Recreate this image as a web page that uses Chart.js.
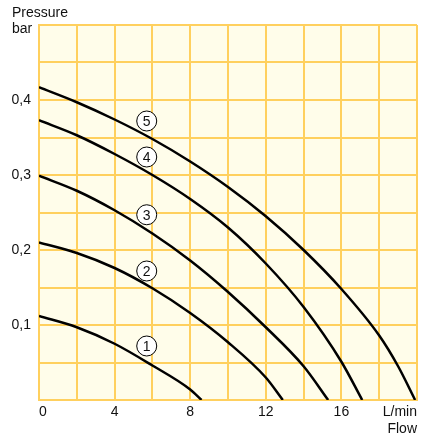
<!DOCTYPE html>
<html>
<head>
<meta charset="utf-8">
<script src="https://cdn.jsdelivr.net/npm/chart.js@4/dist/chart.umd.min.js"></script>
<style>
  html, body { margin: 0; padding: 0; background: #fff; overflow: hidden; }
  canvas { display: block; }
</style>
</head>
<body>
<canvas id="pumpChart" width="422" height="437"></canvas>
<script>
// pump curves, flow in L/min, pressure in bar
const flow1 = [0, 2, 4, 6, 8, 8.6];
const pres1 = [0.112, 0.097, 0.075, 0.046, 0.014, 0];
const flow2 = [0, 2, 4, 6, 8, 10, 12, 12.9];
const pres2 = [0.21, 0.196, 0.176, 0.149, 0.116, 0.077, 0.030, 0];
const flow3 = [0, 2, 4, 6, 8, 10, 12, 14, 15.3];
const pres3 = [0.299, 0.279, 0.253, 0.222, 0.186, 0.144, 0.097, 0.045, 0];
const flow4 = [0, 2, 4, 6, 8, 10, 12, 14, 16, 17.1];
const pres4 = [0.373, 0.353, 0.328, 0.300, 0.268, 0.230, 0.182, 0.124, 0.051, 0];
const flow5 = [0, 2, 4, 6, 8, 10, 12, 14, 16, 18, 19, 19.9];
const pres5 = [0.417, 0.397, 0.374, 0.348, 0.318, 0.284, 0.245, 0.200, 0.148, 0.086, 0.045, 0];

// circled curve numbers
const markerNames = ['1', '2', '3', '4', '5'];
const markerFlow = [5.7, 5.7, 5.7, 5.7, 5.7];
const markerPres = [0.072, 0.172, 0.247, 0.324, 0.372];

const xTickLabels = { 0: '0', 4: '4', 8: '8', 12: '12', 16: '16', 20: ['L/min', 'Flow'] };
const yTickLabels = { 0.1: '0,1', 0.2: '0,2', 0.3: '0,3', 0.4: '0,4' };

const FONT = 'Liberation Sans, Arial, sans-serif';
const GRID = '#ffd05e';

function pts(xs, ys) {
  return xs.map((x, i) => ({ x: x, y: ys[i] }));
}

function curve(xs, ys) {
  return {
    data: pts(xs, ys),
    borderColor: '#000',
    borderWidth: 2.5,
    pointRadius: 0,
    cubicInterpolationMode: 'monotone',
    fill: false
  };
}

const bgPlugin = {
  id: 'bg',
  beforeDraw(chart) {
    const a = chart.chartArea, c = chart.ctx;
    c.save();
    c.fillStyle = '#fffdea';
    c.fillRect(a.left, a.top, a.right - a.left, a.bottom - a.top);
    c.restore();
  }
};

const textPlugin = {
  id: 'texts',
  afterDatasetsDraw(chart) {
    const c = chart.ctx;
    c.save();
    // numbers in circles
    const meta = chart.getDatasetMeta(5);
    c.fillStyle = '#111';
    c.font = '14px ' + FONT;
    c.textAlign = 'center';
    c.textBaseline = 'middle';
    meta.data.forEach((p, i) => {
      c.fillText(markerNames[i], p.x, p.y + 1);
    });
    // y axis caption
    c.textBaseline = 'alphabetic';
    c.textAlign = 'left';
    c.fillText('Pressure', 12, 17);
    c.fillText('bar', 12, 33);
    c.restore();
  }
};

new Chart(document.getElementById('pumpChart'), {
  type: 'line',
  data: {
    datasets: [
      curve(flow1, pres1),
      curve(flow2, pres2),
      curve(flow3, pres3),
      curve(flow4, pres4),
      curve(flow5, pres5),
      {
        data: pts(markerFlow, markerPres),
        showLine: false,
        pointRadius: 10,
        pointBackgroundColor: '#fff',
        pointBorderColor: '#000',
        pointBorderWidth: 1
      }
    ]
  },
  options: {
    responsive: false,
    animation: false,
    layout: { autoPadding: false, padding: { top: 25, right: 5, left: 0, bottom: 0 } },
    plugins: {
      legend: { display: false },
      tooltip: { enabled: false }
    },
    scales: {
      x: {
        type: 'linear',
        min: 0,
        max: 20,
        afterFit: s => { s.height = 37; },
        grid: { color: GRID, lineWidth: 2, drawTicks: false },
        border: { color: GRID, width: 2 },
        ticks: {
          stepSize: 2,
          padding: 4,
          align: 'inner',
          maxRotation: 0,
          autoSkip: false,
          color: '#111',
          font: { family: FONT, size: 14 },
          callback: v => xTickLabels[v] || ''
        }
      },
      y: {
        type: 'linear',
        min: 0,
        max: 0.5,
        afterFit: s => { s.width = 39; },
        grid: { color: GRID, lineWidth: 2, drawTicks: false },
        border: { color: GRID, width: 2 },
        ticks: {
          stepSize: 0.05,
          padding: 8,
          autoSkip: false,
          color: '#111',
          font: { family: FONT, size: 14 },
          callback: v => yTickLabels[Math.round(v * 100) / 100] || ''
        }
      }
    }
  },
  plugins: [bgPlugin, textPlugin]
});
</script>
</body>
</html>
